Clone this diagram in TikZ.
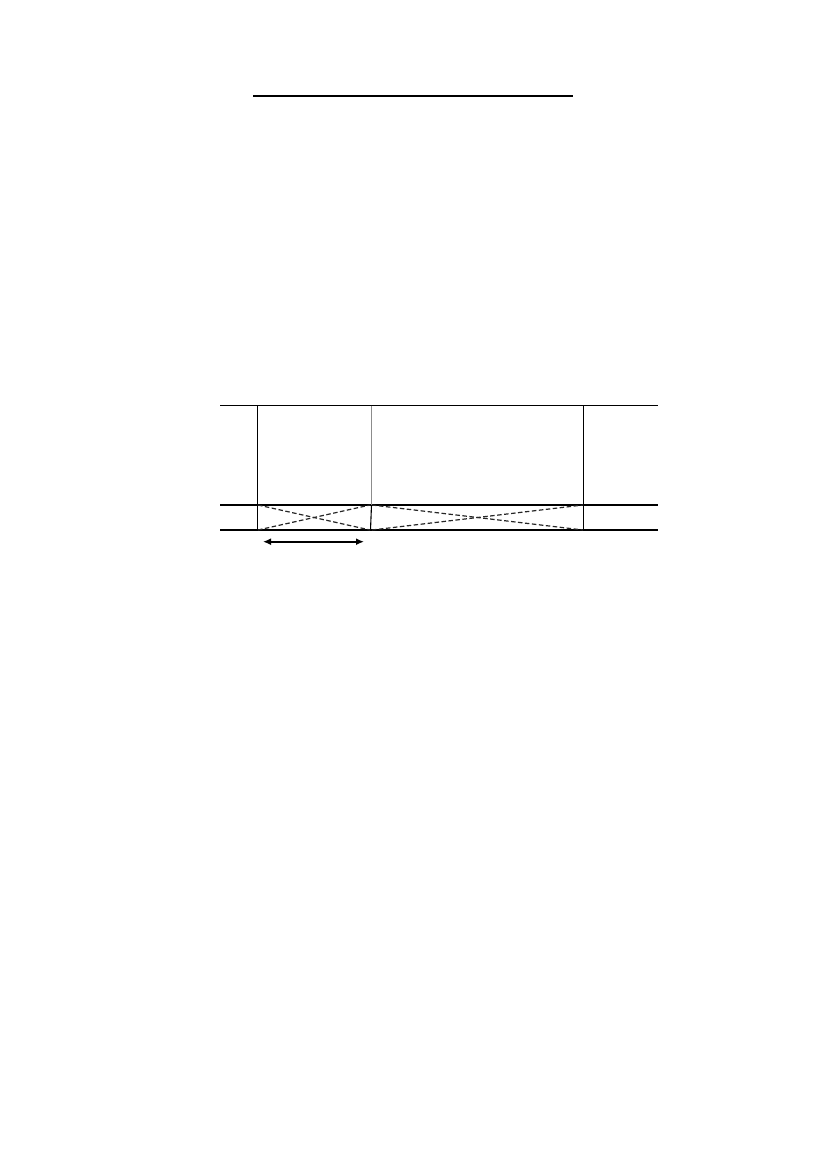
\documentclass[tikz,border=0pt]{standalone}
\usetikzlibrary{arrows.meta}
\begin{document}
\begin{tikzpicture}[x=1pt,y=-1pt,
  solidline/.style={line width=1.1pt,black},
  greyline/.style={line width=0.9pt,black!45},
  dashline/.style={line width=1.2pt,black!85,dash pattern=on 4.5pt off 2.5pt},
  dimarrow/.style={line width=1.6pt,{Latex[length=8pt,width=7pt]}-{Latex[length=8pt,width=7pt]}}]
\useasboundingbox (0,0) rectangle (827,1169);
% title rule
\coordinate (t1) at (253,96);
\coordinate (t2) at (573,96);
\draw[line width=2pt] (t1) -- (t2);
% horizontal lines
\coordinate (aL) at (220,405.5);
\coordinate (aR) at (658,405.5);
\coordinate (bL) at (220,505);
\coordinate (bR) at (658,505);
\coordinate (cL) at (220,530);
\coordinate (cR) at (658,530);
\draw[solidline] (aL) -- (aR);
\draw[solidline] (bL) -- (bR);
\draw[solidline] (cL) -- (cR);
% verticals
\coordinate (v1a) at (257.5,405.5);
\coordinate (v1c) at (257.5,530);
\coordinate (v2a) at (371.5,405.5);
\coordinate (v2b) at (371.5,505);
\coordinate (v2c) at (370.5,530);
\coordinate (v3a) at (583.5,405.5);
\coordinate (v3c) at (583.5,530);
\draw[solidline] (v1a) -- (v1c);
\draw[greyline] (v2a) -- (v2b);
\draw[solidline] (v2b) -- (v2c);
\draw[solidline] (v3a) -- (v3c);
% dashed crosses
\coordinate (x1tl) at (258,505);
\coordinate (x1tr) at (370,505);
\coordinate (x1bl) at (258,530);
\coordinate (x1br) at (370,530);
\coordinate (x2tl) at (372,505);
\coordinate (x2tr) at (583,505);
\coordinate (x2bl) at (372,530);
\coordinate (x2br) at (583,530);
\draw[dashline] (x1tl) -- (x1br);
\draw[dashline] (x1bl) -- (x1tr);
\draw[dashline] (x2tl) -- (x2br);
\draw[dashline] (x2bl) -- (x2tr);
% dimension arrow
\coordinate (d1) at (263,541.7);
\coordinate (d2) at (364,541.7);
\draw[dimarrow] (d1) -- (d2);
\end{tikzpicture}
\end{document}
